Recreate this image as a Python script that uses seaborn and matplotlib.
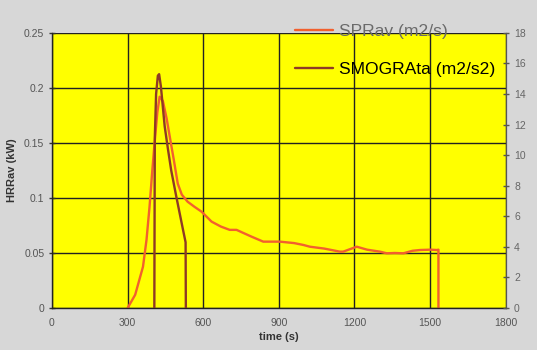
import matplotlib
matplotlib.use("Agg")
import matplotlib.pyplot as plt
import seaborn as sns
import pandas as pd

# Data
spr_time = [300, 330, 361, 375, 387, 398, 407, 418, 427, 440, 455, 467, 483, 499, 515, 538,
            565, 593, 633, 670, 705, 732, 790, 838, 891, 904, 960, 997, 1023, 1080, 1142,
            1155, 1209, 1250, 1301, 1328, 1360, 1394, 1430, 1460, 1500, 1527, 1533, 1533]
spr_val = [0.0, 0.012, 0.0375, 0.062, 0.092, 0.125, 0.15, 0.178, 0.192, 0.188, 0.172, 0.156,
           0.135, 0.113, 0.103, 0.0966, 0.092, 0.0876, 0.0785, 0.074, 0.071, 0.071, 0.065,
           0.0603, 0.0603, 0.0603, 0.059, 0.0573, 0.0557, 0.054, 0.0512, 0.0512, 0.0557,
           0.053, 0.0512, 0.0497, 0.050, 0.0497, 0.052, 0.0527, 0.053, 0.0527, 0.053, 0.0]

smog_time = [406, 407, 408, 413, 420, 425, 432, 447, 460, 473, 493, 520, 530, 531]
smog_val = [0.0, 6.0, 11.2, 14.0, 15.2, 15.3, 14.5, 11.9, 10.4, 9.0, 7.3, 5.1, 4.3, 0.0]

left_ticks = [0, 0.05, 0.1, 0.15, 0.2, 0.25]
left_labels = ["0", "0.05", "0.1", "0.15", "0.2", "0.25"]
right_ticks = [0, 2, 4, 6, 8, 10, 12, 14, 16, 18]
x_ticks = [0, 300, 600, 900, 1200, 1500, 1800]

spr_df = pd.DataFrame({"time": spr_time, "value": spr_val})
smog_df = pd.DataFrame({"time": smog_time, "value": smog_val})

sns.set_style("white")
plt.rcParams["font.family"] = ["Liberation Sans", "DejaVu Sans"]

fig = plt.figure(figsize=(5.37, 3.5), dpi=100, facecolor="#d7d7d7")
ax = fig.add_axes([0.0968, 0.12, 0.845, 0.786])
ax.set_facecolor("#ffff00")

line_col = "#f2602e"
smog_col = "#8e3a26"

sns.lineplot(data=spr_df, x="time", y="value", ax=ax, color=line_col, lw=1.7,
             sort=False, estimator=None, label="SPRav (m2/s)", legend=False)
ax.set_xlim(0, 1800)
ax.set_ylim(0, 0.25)
ax.set_xticks(x_ticks)
ax.set_yticks(left_ticks)
ax.set_yticklabels(left_labels)
ax.grid(True, color="#222222", lw=1.0)
ax.set_axisbelow(True)
ax.tick_params(axis="both", which="both", length=4, width=1, color="#333333",
               labelsize=7.5, labelcolor="#555555", direction="inout")
ax.tick_params(axis="x", pad=5)
ax.set_xlabel("time (s)", fontsize=8, fontweight="bold", color="#333333", labelpad=3)
ax.set_ylabel("HRRav (kW)", fontsize=8, fontweight="bold", color="#333333", labelpad=5)
for s in ["left", "bottom"]:
    ax.spines[s].set_color("#222222")
    ax.spines[s].set_linewidth(1.0)
ax.spines["top"].set_visible(False)
ax.spines["right"].set_color("#555555")

ax2 = ax.twinx()
sns.lineplot(data=smog_df, x="time", y="value", ax=ax2, color=smog_col, lw=1.7,
             sort=False, estimator=None, label="SMOGRAta (m2/s2)", legend=False)
ax2.set_ylim(0, 18)
ax2.set_yticks(right_ticks)
ax2.set_ylabel("")
ax2.tick_params(axis="y", length=5, width=1, color="#555555", labelsize=7.5,
                labelcolor="#666666", direction="inout")
ax2.spines["top"].set_visible(False)
ax2.spines["right"].set_color("#555555")
ax2.spines["left"].set_visible(False)
ax2.spines["bottom"].set_visible(False)

h1, l1 = ax.get_legend_handles_labels()
h2, l2 = ax2.get_legend_handles_labels()
leg = ax2.legend(h1 + h2, l1 + l2, loc="upper left", bbox_to_anchor=(0.52, 1.06),
                 frameon=False, fontsize=12.6, handlelength=2.2, handletextpad=0.3,
                 labelspacing=1.3, borderaxespad=0)
texts = leg.get_texts()
texts[0].set_color("#6a6a6a")
texts[1].set_color("#000000")

fig.savefig("out.png", dpi=100, facecolor=fig.get_facecolor())
